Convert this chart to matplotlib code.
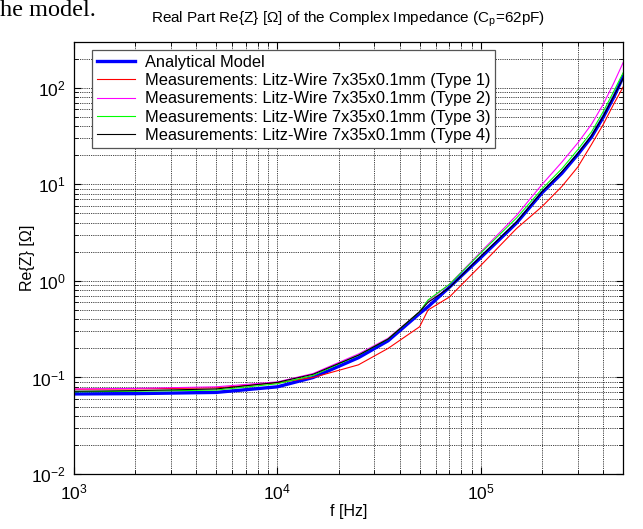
import matplotlib.pyplot as plt
import numpy as np

plt.rcParams['font.family'] = ['Liberation Sans', 'DejaVu Sans']
plt.rcParams['mathtext.fontset'] = 'custom'
plt.rcParams['mathtext.rm'] = 'Liberation Sans'
plt.rcParams['mathtext.it'] = 'Liberation Sans:italic'

# frequency points [Hz]
freq = [1e3, 2e3, 5e3, 1e4, 1.5e4, 2.5e4, 3.5e4, 5e4, 5.5e4, 7e4,
        1e5, 1.5e5, 2e5, 2.5e5, 3e5, 3.5e5, 4e5, 4.5e5, 5e5]

# Re{Z} [Ohm]
analytical = [0.0675, 0.068, 0.070, 0.080, 0.100, 0.160, 0.240, 0.460, 0.54, 0.86,
              1.75, 4.0, 8.2, 13.0, 20.5, 31.0, 50.0, 80.0, 130.0]
type1 = [0.0755, 0.076, 0.078, 0.088, 0.100, 0.135, 0.200, 0.335, 0.50, 0.68,
         1.45, 3.5, 5.9, 9.5, 15.2, 26.0, 42.0, 68.0, 102.0]
type2 = [0.076, 0.077, 0.080, 0.090, 0.110, 0.175, 0.255, 0.480, 0.62, 0.92,
         2.0, 4.8, 10.0, 17.0, 27.0, 42.0, 68.0, 112.0, 182.0]
type3 = [0.071, 0.072, 0.074, 0.086, 0.105, 0.170, 0.250, 0.480, 0.635, 0.92,
         1.95, 4.5, 9.0, 14.5, 23.0, 35.0, 57.0, 92.0, 143.0]
type4 = [0.072, 0.073, 0.076, 0.089, 0.108, 0.170, 0.250, 0.480, 0.60, 0.85,
         1.8, 4.1, 8.4, 13.5, 21.0, 32.0, 51.0, 82.0, 125.0]

labels = ['Analytical Model',
          'Measurements: Litz-Wire 7x35x0.1mm (Type 1)',
          'Measurements: Litz-Wire 7x35x0.1mm (Type 2)',
          'Measurements: Litz-Wire 7x35x0.1mm (Type 3)',
          'Measurements: Litz-Wire 7x35x0.1mm (Type 4)']

fig = plt.figure(figsize=(6.43, 5.29), dpi=100)
ax = fig.add_axes([0.115, 0.104, 0.854, 0.817])

ax.plot(freq, analytical, color='#0000ff', lw=2.4, label=labels[0])
ax.plot(freq, type1, color='#ff0000', lw=0.8, label=labels[1])
ax.plot(freq, type2, color='#ff00ff', lw=0.8, label=labels[2])
ax.plot(freq, type3, color='#00ff00', lw=0.8, label=labels[3])
ax.plot(freq, type4, color='black', lw=0.8, label=labels[4])

ax.set_xscale('log')
ax.set_yscale('log')
ax.set_xlim(1e3, 5e5)
ax.set_ylim(1e-2, 300)

ax.grid(True, which='both', color='black', linestyle=(0, (1, 1.2)), lw=0.6)
ax.tick_params(which='both', direction='in', top=True, right=True, labelsize=12.5, pad=6)
ax.tick_params(which='major', length=5)
ax.tick_params(which='minor', length=3)
for s in ax.spines.values():
    s.set_linewidth(0.9)

ax.set_xlabel('f [Hz]', fontsize=11.5, labelpad=1)
ax.set_ylabel('Re{Z} [Ω]', fontsize=11.5, labelpad=-3)
ax.set_title(r'Real Part Re{Z} [Ω] of the Complex Impedance (C$_\mathregular{p}$=62pF)',
             fontsize=11, pad=14)

leg = ax.legend(loc='upper left', bbox_to_anchor=(0.033, 0.981), borderaxespad=0,
                fontsize=11.8, fancybox=False, framealpha=1, edgecolor='#555555',
                handlelength=2.3, labelspacing=0.2, borderpad=0.3, handletextpad=0.6)
leg.get_frame().set_linewidth(0.9)

# leftover text from the surrounding document
fig.text(0.0, 0.969, 'he model.', family='Liberation Serif', fontsize=17.5, va='baseline')

fig.savefig('out.png', dpi=100)
